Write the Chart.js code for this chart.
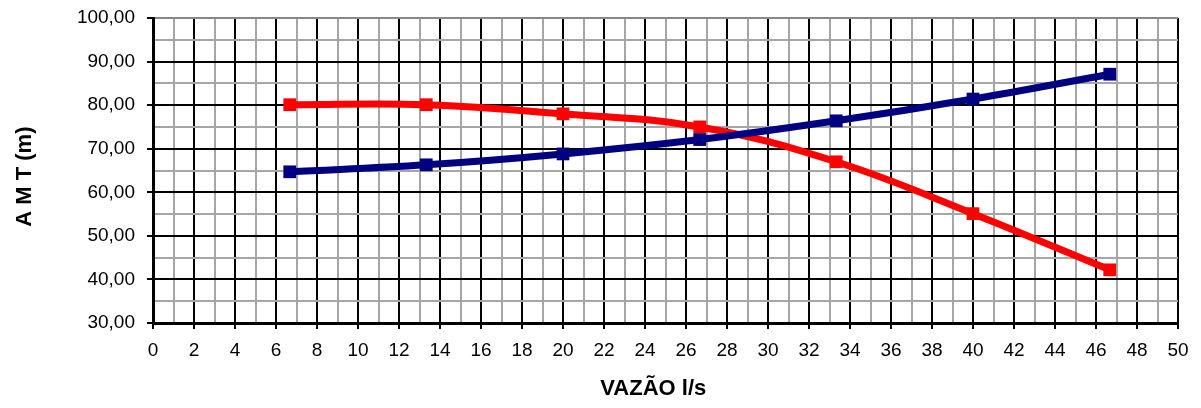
<!DOCTYPE html>
<html>
<head>
<meta charset="utf-8">
<script src="https://cdn.jsdelivr.net/npm/chart.js@4/dist/chart.umd.min.js"></script>
<style>
  html, body { margin: 0; padding: 0; background: #fff; }
  #wrap { width: 1201px; height: 408px; }
</style>
</head>
<body>
<div id="wrap"><canvas id="chart" width="1201" height="408"></canvas></div>
<script>
// vazão (l/s) of the measured points
const flows = [6.67, 13.33, 20, 26.67, 33.33, 40, 46.67];
// curve of the pump (red) and curve of the system (blue), AMT in m
const pumpHead = [80.1, 80.1, 78.0, 75.0, 67.0, 55.1, 42.2];
const systemHead = [64.7, 66.3, 68.8, 72.1, 76.4, 81.4, 87.1];

// trailing spaces only nudge the centred titles the way the original sits
const xTitle = "VAZÃO l/s    ";
const yTitle = "A M T (m)  ";

const BLACK = "#000000";
const GREY = "#a6a6a6";
const FONT = "Arial, 'Liberation Sans', sans-serif";

function toPoints(ys) {
    return flows.map((x, i) => ({ x: x, y: ys[i] }));
}

const tickFont = { family: FONT, size: 19 };
const titleFont = { family: FONT, size: 22, weight: "bold" };

new Chart(document.getElementById("chart"), {
    type: "line",
    data: {
        datasets: [
            {
                label: "Sistema",
                data: toPoints(systemHead),
                borderColor: "#000080",
                backgroundColor: "#000080",
                borderWidth: 7,
                pointStyle: "rect",
                pointRadius: 9,
                pointBorderWidth: 0,
                tension: 0.4
            },
            {
                label: "Bomba",
                data: toPoints(pumpHead),
                borderColor: "#ff0000",
                backgroundColor: "#ff0000",
                borderWidth: 7,
                pointStyle: "rect",
                pointRadius: 9,
                pointBorderWidth: 0,
                tension: 0.4
            }
        ]
    },
    options: {
        responsive: false,
        animation: false,
        layout: { padding: { top: 18, right: 23, left: 0, bottom: 0 } },
        plugins: {
            legend: { display: false },
            tooltip: { enabled: false }
        },
        scales: {
            x: {
                type: "linear",
                min: 0,
                max: 50,
                ticks: {
                    stepSize: 1,
                    autoSkip: false,
                    maxRotation: 0,
                    color: BLACK,
                    font: tickFont,
                    padding: 10,
                    callback: v => (v % 2 === 0 ? String(v) : "")
                },
                grid: {
                    color: ctx => (ctx.tick && ctx.tick.value % 2 === 0 ? BLACK : GREY),
                    lineWidth: 2,
                    tickLength: 6,
                    tickColor: ctx => (ctx.tick && ctx.tick.value % 2 === 0 ? BLACK : "rgba(0,0,0,0)")
                },
                border: { color: BLACK, width: 3 },
                title: {
                    display: true,
                    text: xTitle,
                    color: BLACK,
                    font: titleFont,
                    padding: { top: 6, bottom: 6 }
                },
                afterFit: s => { s.height = 85; }
            },
            y: {
                min: 30,
                max: 100,
                ticks: {
                    stepSize: 5,
                    autoSkip: false,
                    color: BLACK,
                    font: tickFont,
                    padding: 12,
                    callback: v => (v % 10 === 0 ? v.toFixed(2).replace(".", ",") : "")
                },
                grid: {
                    color: ctx => {
                        if (!ctx.tick) return GREY;
                        if (ctx.tick.value === 100) return "#888888";
                        return ctx.tick.value % 10 === 0 ? BLACK : GREY;
                    },
                    lineWidth: 2,
                    tickLength: 6,
                    tickColor: ctx => (ctx.tick && ctx.tick.value % 10 === 0 ? BLACK : "rgba(0,0,0,0)")
                },
                border: { color: BLACK, width: 3 },
                title: {
                    display: true,
                    text: yTitle,
                    color: BLACK,
                    font: titleFont,
                    padding: { top: 12, bottom: 0 }
                },
                afterFit: s => {
                    s.width = 153;
                    s.paddingTop = 0;
                    s.paddingBottom = 0;
                }
            }
        }
    }
});
</script>
</body>
</html>
